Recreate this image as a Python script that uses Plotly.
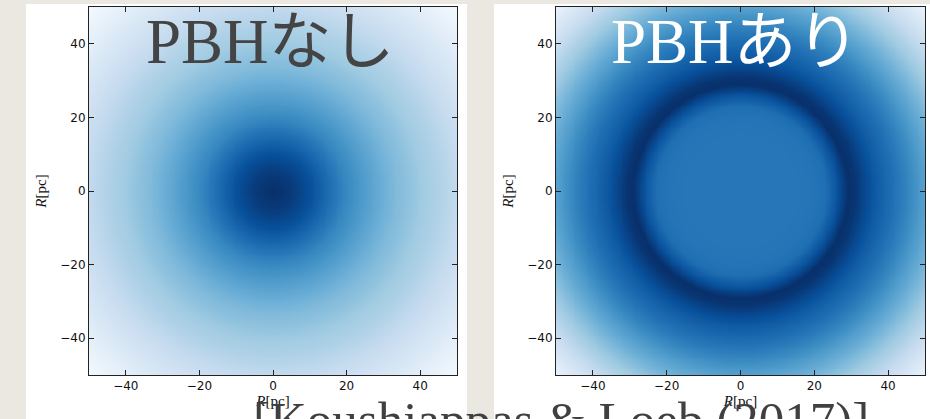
import numpy as np
import plotly.graph_objects as go

# ---- data ----
RADIUS_PC = [0, 5, 10, 15, 20, 23, 26, 29, 31, 34, 37, 41, 45, 50, 55, 60, 65, 71]
DENSITY_NO_PBH = [1.0, 0.96, 0.88, 0.77, 0.66, 0.61, 0.56, 0.51, 0.48, 0.44, 0.41, 0.36, 0.32, 0.26, 0.2, 0.14, 0.08, 0.02]
DENSITY_PBH = [0.73, 0.73, 0.73, 0.73, 0.74, 0.76, 0.86, 1.0, 0.98, 0.9, 0.83, 0.76, 0.68, 0.56, 0.44, 0.32, 0.2, 0.06]
GRID_PC = list(np.linspace(-50, 50, 201))
TICKS = [-40, -20, 0, 20, 40]
TICK_TEXT = ["\u221240", "\u221220", "0", "20", "40"]
TITLE_LEFT = "PBHなし"
TITLE_RIGHT = "PBHあり"
CITATION = "[Koushiappas & Loeb (2017)]"
AXIS_LABEL = "<i>R</i>[pc]"

BLUES = [[0.0, "rgb(247,251,255)"], [0.125, "rgb(222,235,247)"], [0.25, "rgb(198,219,239)"],
         [0.375, "rgb(158,202,225)"], [0.5, "rgb(107,174,214)"], [0.625, "rgb(66,146,198)"],
         [0.75, "rgb(33,113,181)"], [0.875, "rgb(8,81,156)"], [1.0, "rgb(8,48,107)"]]

g = np.array(GRID_PC)
XX, YY = np.meshgrid(g, g)
RR = np.sqrt(XX ** 2 + YY ** 2)
z_left = np.interp(RR, RADIUS_PC, DENSITY_NO_PBH)
z_right = np.interp(RR, RADIUS_PC, DENSITY_PBH)

W, H = 930, 419
fig = go.Figure()
fig.add_trace(go.Heatmap(x=GRID_PC, y=GRID_PC, z=z_left, colorscale=BLUES, zmin=0, zmax=1,
                         showscale=False, zsmooth="best", xaxis="x", yaxis="y"))
fig.add_trace(go.Heatmap(x=GRID_PC, y=GRID_PC, z=z_right, colorscale=BLUES, zmin=0, zmax=1,
                         showscale=False, zsmooth="best", xaxis="x2", yaxis="y2"))

def px(x):
    return x / W

def py(y):
    return 1 - y / H

axis_common = dict(range=[-50, 50], tickvals=TICKS, ticktext=TICK_TEXT, ticks="inside",
                   ticklen=5, tickcolor="#222", showline=True, linecolor="#222", linewidth=1,
                   mirror="ticks", showgrid=False, zeroline=False,
                   tickfont=dict(family="DejaVu Sans", size=12, color="#111"))
title_font = dict(family="Liberation Serif", size=15, color="#111")

fig.update_layout(
    width=W, height=H, margin=dict(l=0, r=0, t=0, b=0),
    paper_bgcolor="#ebe8e2", plot_bgcolor="white", showlegend=False,
    xaxis=dict(domain=[px(89), px(457)], anchor="y", **axis_common,
               title=dict(text=AXIS_LABEL, font=title_font, standoff=2)),
    yaxis=dict(domain=[py(375), py(7)], anchor="x", **axis_common,
               title=dict(text=AXIS_LABEL, font=title_font, standoff=10)),
    xaxis2=dict(domain=[px(556), px(925)], anchor="y2", **axis_common,
                title=dict(text=AXIS_LABEL, font=title_font, standoff=2)),
    yaxis2=dict(domain=[py(375), py(7)], anchor="x2", **axis_common,
                title=dict(text=AXIS_LABEL, font=title_font, standoff=10)),
    shapes=[
        dict(type="rect", xref="paper", yref="paper", x0=px(26), x1=px(467), y0=-0.05, y1=py(4),
             fillcolor="white", line=dict(width=0), layer="below"),
        dict(type="rect", xref="paper", yref="paper", x0=px(494), x1=1.01, y0=-0.05, y1=py(4),
             fillcolor="white", line=dict(width=0), layer="below"),
    ],
    annotations=[
        dict(text=TITLE_LEFT, xref="paper", yref="paper", x=px(270), y=py(42), xanchor="center",
             yanchor="middle", showarrow=False,
             font=dict(family="Liberation Serif, Noto Sans CJK JP", size=63, color="#444444")),
        dict(text=TITLE_RIGHT, xref="paper", yref="paper", x=px(735), y=py(42), xanchor="center",
             yanchor="middle", showarrow=False,
             font=dict(family="Liberation Serif, Noto Sans CJK JP", size=63, color="white")),
        dict(text=CITATION, xref="paper", yref="paper", x=px(561), y=py(420), xanchor="center",
             yanchor="middle", showarrow=False,
             font=dict(family="Liberation Serif", size=51, color="#404040")),
    ],
)

fig.write_html("out.html")
